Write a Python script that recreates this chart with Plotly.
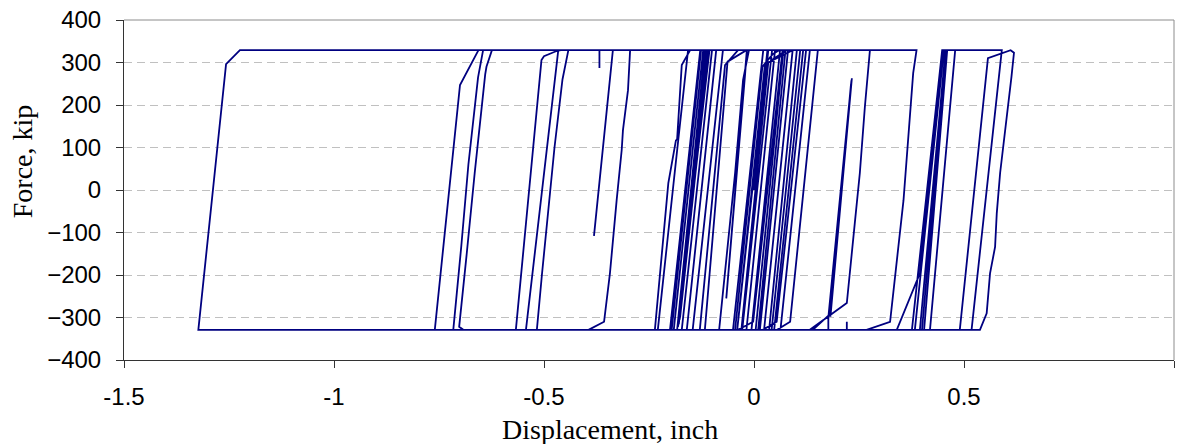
import plotly.graph_objects as go

# Force-displacement history of the isolator, split into three stretches of the record.
# Plateaus sit at the yield force (+/-329 kip).

# early cycles around the origin
early_disp = [
    0.000, 0.034,
    0.062, -0.006,
    -0.018, 0.050,
    0.068, -0.002, -0.038,
    -0.045, 0.020, 0.045, 0.060,
    0.081, 0.014,
    -0.028, 0.043,
    0.070, 0.004,
    -0.040, 0.026, 0.078,
    0.124, 0.054, 0.021,
    -0.050, 0.022,
    -0.018, -0.063, -0.117,
    -0.129, -0.069, -0.038,
    0.032, -0.040,
    -0.030, 0.034, 0.090,
    0.092, 0.024,
    -0.083, -0.045, -0.026, -0.012,
    -0.074, -0.146,
    -0.229, -0.190, -0.157,
    -0.128, -0.200,
    -0.236, -0.204, -0.186, -0.183, -0.172, -0.152,
    -0.106, -0.181, -0.113, -0.177, -0.109, -0.179, -0.111, -0.180, -0.114, -0.176, -0.108,
    -0.100, -0.172,
    -0.196, -0.126,
    -0.121, -0.191,
    -0.183, -0.117,
    -0.090, -0.160,
]
early_force = [
    0, 329,
    329, -329,
    -329, 329,
    329, -310, -329,
    -329, 290, 320, 329,
    329, -329,
    -329, 329,
    329, -329,
    -329, 295, 329,
    329, -310, -329,
    -329, 329,
    329, 302, -329,
    -329, 294, 329,
    329, -329,
    -329, 300, 329,
    329, -329,
    -329, 40, 259, 329,
    329, -329,
    -329, 30, 329,
    329, -329,
    -329, 16, 116, 120, 294, 329,
    329, -322, 329, -305, 329, -315, 329, -318, 329, -300, 329,
    329, -329,
    -329, 329,
    329, -329,
    -329, 329,
    329, -329,
]

# large negative pulse and the cycles that follow it
pulse_disp = [
    -1.323, -1.257, -1.224,
    -0.466, -0.543,
    -0.760, -0.700, -0.656,
    -0.645, -0.657, -0.680, -0.697, -0.716,
    -0.692, -0.702, -0.684, -0.665, -0.640, -0.637, -0.624,
    -0.442, -0.456, -0.475, -0.505, -0.517,
    -0.567, -0.506, -0.500, -0.470, -0.460,
    -0.368, -0.368, -0.368,
    -0.336, -0.381, -0.337, -0.336,
    -0.017, -0.021, -0.066, -0.022, -0.017,
    -0.295, -0.300, -0.312, -0.315, -0.327, -0.343, -0.357, -0.394,
]
pulse_force = [
    -329, 296, 329,
    329, -329,
    -329, 247, 329,
    329, 265, 60, -133, -329,
    -329, -322, -150, 40, 272, 290, 329,
    329, 260, 100, -200, -329,
    -329, 306, 315, 327, 329,
    329, 287, 329,
    329, -108, 324, 329,
    329, 275, -255, 268, 329,
    329, 235, 141, 94, -24, -196, -310, -329,
]

# drift to the positive side
late_disp = [
    0.133, 0.221, 0.240, 0.252, 0.264, 0.276,
    0.152, 0.086, 0.055,
    0.140, 0.181, 0.233, 0.182, 0.231, 0.180, 0.232, 0.177, 0.177,
    0.221, 0.221, 0.221,
    0.048, 0.117,
    0.102, 0.036,
    0.063, 0.133,
    0.110, 0.042,
    0.010, 0.075,
    0.387, 0.379, 0.356, 0.324, 0.268,
    0.340, 0.395, 0.450,
    0.448, 0.376,
    0.383, 0.452,
    0.456, 0.395,
    0.400, 0.458,
    0.479, 0.419,
    0.405, 0.460,
    0.590, 0.518,
    0.490, 0.557, 0.611, 0.619,
    0.613, 0.605, 0.586, 0.578, 0.574, 0.562, 0.554, 0.538,
    0.200,
]
late_force = [
    -329, -266, -78, 40, 196, 329,
    329, -310, -329,
    -329, -292, 263, -298, 250, -296, 258, -300, -329,
    -329, -310, -329,
    -329, 329,
    329, -329,
    -329, 329,
    329, -329,
    -329, 329,
    329, 275, -24, -310, -329,
    -329, -196, 329,
    329, -329,
    -329, 329,
    329, -329,
    -329, 329,
    329, -329,
    -329, 329,
    329, -329,
    -329, 310, 329, 323,
    266, 196, 40, -55, -134, -196, -290, -329,
    -329,
]

x_ticks = [-1.5, -1, -0.5, 0, 0.5, 1]
x_tick_text = ["-1.5", "-1", "-0.5", "0", "0.5", "1"]
y_ticks = [-400, -300, -200, -100, 0, 100, 200, 300, 400]

disp = early_disp + pulse_disp + late_disp
force = early_force + pulse_force + late_force

fig = go.Figure(
    go.Scatter(
        x=disp, y=force, mode="lines",
        line=dict(color="#000080", width=1.8),
        hoverinfo="skip", showlegend=False,
    )
)

tick_font = dict(family="Liberation Sans, Arial, sans-serif", size=24, color="black")
title_font = dict(family="Liberation Serif, Times New Roman, serif", size=28, color="black")

fig.update_layout(
    width=1179, height=444,
    margin=dict(l=124, r=5, t=20, b=84),
    paper_bgcolor="white", plot_bgcolor="white",
    xaxis=dict(
        range=[-1.5, 1], tickvals=x_ticks, ticktext=x_tick_text,
        ticks="outside", ticklen=7, tickcolor="#333333", tickwidth=1,
        showline=True, linecolor="#333333", linewidth=1,
        showgrid=False, zeroline=False, tickfont=tick_font,
        ticklabelstandoff=8,
    ),
    yaxis=dict(
        range=[-400, 400], tickvals=y_ticks,
        ticks="outside", ticklen=7, tickcolor="#333333", tickwidth=1,
        showline=True, linecolor="#333333", linewidth=1,
        showgrid=True, gridcolor="#c0c0c0", gridwidth=1, griddash="8px,5px",
        zeroline=False, tickfont=tick_font,
        ticklabelstandoff=10,
    ),
    shapes=[
        dict(type="line", xref="paper", yref="paper", x0=0, x1=1, y0=1, y1=1,
             line=dict(color="#8c8c8c", width=1), layer="above"),
        dict(type="line", xref="paper", yref="paper", x0=1, x1=1, y0=0, y1=1,
             line=dict(color="#8c8c8c", width=1), layer="above"),
    ],
    annotations=[
        dict(text="Displacement, inch", xref="paper", yref="paper",
             x=0.463, y=0.0, yshift=-87, xanchor="center", yanchor="bottom",
             showarrow=False, font=title_font),
        dict(text="Force, kip", xref="paper", yref="paper",
             x=-0.097, y=0.585, xanchor="center", yanchor="middle",
             textangle=-90, showarrow=False, font=title_font),
    ],
)

fig.write_html("out.html")
